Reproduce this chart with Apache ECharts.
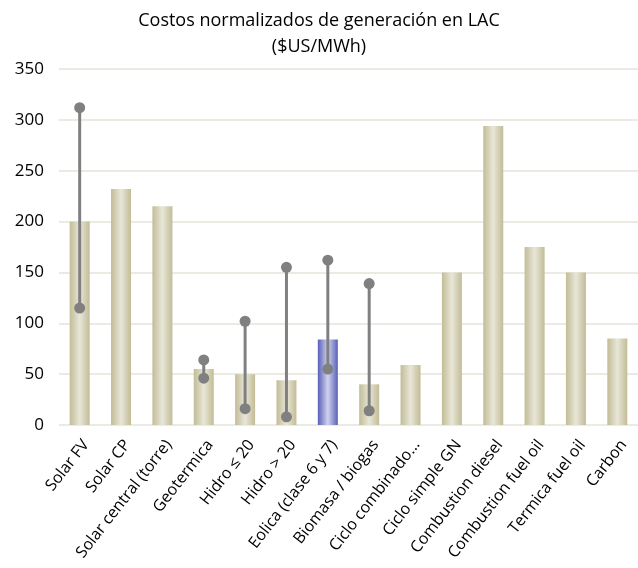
<!DOCTYPE html>
<html>
<head>
<meta charset="utf-8">
<script src="https://cdn.jsdelivr.net/npm/echarts@6/dist/echarts.min.js"></script>
<style>
  html, body { margin: 0; padding: 0; background: #fff; }
  #container { width: 638px; height: 568px; }
</style>
</head>
<body>
<div id="container"></div>
<script>
var categories = ['Solar FV', 'Solar CP', 'Solar central (torre)', 'Geotermica', 'Hidro \u2264 20', 'Hidro > 20',
    'Eolica (clase 6 y 7)', 'Biomasa / biogas', 'Ciclo combinado...', 'Ciclo simple GN', 'Combustion diesel',
    'Combustion fuel oil', 'Termica fuel oil', 'Carbon'];
var costValues = [200, 232, 215, 55, 50, 44, 84, 40, 59, 150, 294, 175, 150, 85];
// rangos min / max (indice de categoria)
var rangeIndex = [0, 3, 4, 5, 6, 7];
var rangeMin = [115, 46, 16, 8, 55, 14];
var rangeMax = [312, 64, 102, 155, 162, 139];
var yTicks = [0, 50, 100, 150, 200, 250, 300, 350];
var highlighted = 'Eolica (clase 6 y 7)';

var dom = document.getElementById('container');
var myChart = echarts.init(dom);

var beige = new echarts.graphic.LinearGradient(0, 0, 1, 0, [
    { offset: 0, color: '#c2bc96' },
    { offset: 0.5, color: '#e8e6d8' },
    { offset: 1, color: '#c2bc96' }
]);
var blue = new echarts.graphic.LinearGradient(0, 0, 1, 0, [
    { offset: 0, color: '#5860b6' },
    { offset: 0.5, color: '#d0d2ee' },
    { offset: 1, color: '#5860b6' }
]);

var barData = costValues.map(function (v, i) {
    return { value: v, itemStyle: { color: categories[i] === highlighted ? blue : beige } };
});
var rangeData = rangeIndex.map(function (idx, i) {
    return [idx, rangeMin[i], rangeMax[i]];
});

var option = {
    animation: false,
    title: {
        text: 'Costos normalizados de generación en LAC\n($US/MWh)',
        left: 'center',
        top: 3,
        textStyle: {
            fontFamily: 'Open Sans',
            fontSize: 18,
            fontWeight: 'normal',
            color: '#000',
            lineHeight: 26
        }
    },
    grid: {
        left: 59,
        top: 69,
        bottom: 143,
        width: 588
    },
    xAxis: {
        type: 'category',
        data: categories,
        axisLine: { show: false },
        axisTick: { show: false },
        axisLabel: {
            rotate: 52,
            interval: 0,
            margin: 12,
            verticalAlign: 'top',
            fontFamily: 'Open Sans',
            fontSize: 16,
            color: '#000'
        }
    },
    yAxis: {
        type: 'value',
        min: yTicks[0],
        max: yTicks[yTicks.length - 1],
        interval: 50,
        axisLine: { show: false },
        axisTick: { show: false },
        axisLabel: {
            margin: 15,
            fontFamily: 'Open Sans',
            fontSize: 17,
            color: '#000'
        },
        splitLine: { lineStyle: { color: '#ebebe4', width: 2 } }
    },
    series: [
        {
            type: 'bar',
            data: barData,
            barWidth: 20
        },
        {
            type: 'custom',
            data: rangeData,
            z: 5,
            renderItem: function (params, api) {
                var lo = api.coord([api.value(0), api.value(1)]);
                var hi = api.coord([api.value(0), api.value(2)]);
                var st = { fill: '#808080' };
                return {
                    type: 'group',
                    children: [
                        { type: 'line', shape: { x1: lo[0], y1: lo[1], x2: hi[0], y2: hi[1] },
                          style: { stroke: '#808080', lineWidth: 3 } },
                        { type: 'circle', shape: { cx: lo[0], cy: lo[1], r: 5.5 }, style: st },
                        { type: 'circle', shape: { cx: hi[0], cy: hi[1], r: 5.5 }, style: st }
                    ]
                };
            }
        }
    ]
};

myChart.setOption(option);
</script>
</body>
</html>
